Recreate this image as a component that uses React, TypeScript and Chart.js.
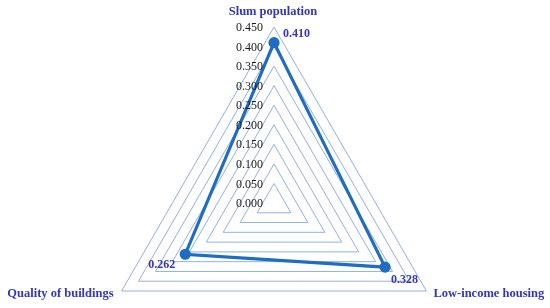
import React, { useEffect, useRef } from "react";
import { Chart, registerables } from "chart.js";

Chart.register(...registerables);

const categories: string[] = ["Slum population", "Low-income housing", "Quality of buildings"];
const values: number[] = [0.41, 0.328, 0.262];
const valueLabels: string[] = ["0.410", "0.328", "0.262"];
const tickValues: number[] = [0, 0.05, 0.1, 0.15, 0.2, 0.25, 0.3, 0.35, 0.4, 0.45];

const LINE = "#1f6cc3";
const GRID = "#8fb2e2";
const LABEL = "#3535c0";
const FONT = "'Liberation Serif', 'Times New Roman', serif";

const labelsPlugin = {
  id: "customLabels",
  afterDraw(chart: any) {
    const scale = chart.scales.r;
    const ctx = chart.ctx;
    ctx.save();
    // tick labels
    ctx.font = `12px ${FONT}`;
    ctx.fillStyle = "#1a1a1a";
    ctx.textAlign = "right";
    ctx.textBaseline = "middle";
    tickValues.forEach((v) => {
      const d = scale.getDistanceFromCenterForValue(v);
      ctx.fillText(v.toFixed(3), scale.xCenter - 11, scale.yCenter - d + 1);
    });
    // point labels
    ctx.font = `bold 12.5px ${FONT}`;
    ctx.fillStyle = LABEL;
    const outer = scale.getDistanceFromCenterForValue(scale.max);
    categories.forEach((c, i) => {
      const p = scale.getPointPosition(i, outer);
      if (i === 0) {
        ctx.textAlign = "center";
        ctx.textBaseline = "middle";
        ctx.fillText(c, p.x - 1, p.y - 15);
      } else if (i === 1) {
        ctx.textAlign = "left";
        ctx.textBaseline = "middle";
        ctx.fillText(c, p.x + 7, p.y + 3);
      } else {
        ctx.textAlign = "right";
        ctx.textBaseline = "middle";
        ctx.fillText(c, p.x - 8, p.y + 3);
      }
    });
    // value labels
    ctx.font = `bold 12px ${FONT}`;
    values.forEach((v, i) => {
      const p = scale.getPointPositionForValue(i, v);
      if (i === 0) {
        ctx.textAlign = "left";
        ctx.fillText(valueLabels[i], p.x + 9, p.y - 9);
      } else if (i === 1) {
        ctx.textAlign = "left";
        ctx.fillText(valueLabels[i], p.x + 6, p.y + 13);
      } else {
        ctx.textAlign = "right";
        ctx.fillText(valueLabels[i], p.x - 10, p.y + 11);
      }
    });
    ctx.restore();
  },
};

export default function App() {
  const ref = useRef<HTMLCanvasElement | null>(null);
  useEffect(() => {
    document.body.style.margin = "0";
    const canvas = ref.current;
    if (!canvas) return;
    const chart = new Chart(canvas, {
      type: "radar",
      data: {
        labels: categories,
        datasets: [
          {
            data: values,
            borderColor: LINE,
            backgroundColor: "rgba(0,0,0,0)",
            borderWidth: 3.2,
            pointRadius: 4,
            pointBackgroundColor: LINE,
            pointBorderColor: LINE,
            fill: false,
            clip: false,
          } as any,
        ],
      },
      options: {
        animation: false,
        responsive: false,
        devicePixelRatio: 1,
        plugins: { legend: { display: false }, tooltip: { enabled: false } },
        layout: { padding: 0 },
        scales: {
          r: {
            min: 0,
            max: 0.45,
            ticks: { display: false, stepSize: 0.05 },
            pointLabels: { display: false },
            angleLines: { display: false },
            grid: { color: GRID, lineWidth: 1, circular: false },
            afterFit: (scale: any) => {
              scale.xCenter = 274;
              scale.yCenter = 203;
              scale.drawingArea = 176;
            },
          } as any,
        },
      },
      plugins: [labelsPlugin],
    });
    return () => chart.destroy();
  }, []);
  return (
    <div style={{ width: 550, height: 308, background: "#fff" }}>
      <canvas ref={ref} width={550} height={308} />
    </div>
  );
}
